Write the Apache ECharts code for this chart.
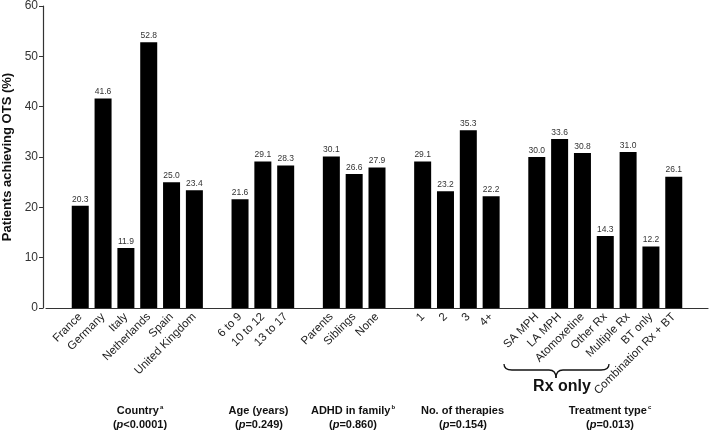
<!DOCTYPE html>
<html>
<head>
<meta charset="utf-8">
<script src="https://cdn.jsdelivr.net/npm/echarts@6/dist/echarts.min.js"></script>
<style>html,body{margin:0;padding:0;background:#fff}#c{width:710px;height:431px}</style>
</head>
<body>
<div id="c"></div>
<script>
// Data by group
const countryCats = ['France','Germany','Italy','Netherlands','Spain','United Kingdom'];
const countryVals = [20.3, 41.6, 11.9, 52.8, 25.0, 23.4];
const ageCats = ['6 to 9','10 to 12','13 to 17'];
const ageVals = [21.6, 29.1, 28.3];
const familyCats = ['Parents','Siblings','None'];
const familyVals = [30.1, 26.6, 27.9];
const therapyCats = ['1','2','3','4+'];
const therapyVals = [29.1, 23.2, 35.3, 22.2];
const treatCats = ['SA MPH','LA MPH','Atomoxetine','Other Rx','Multiple Rx','BT only','Combination Rx + BT'];
const treatVals = [30.0, 33.6, 30.8, 14.3, 31.0, 12.2, 26.1];
const yTicks = [0, 10, 20, 30, 40, 50, 60];

const groups = [
  [countryCats, countryVals],
  [ageCats, ageVals],
  [familyCats, familyVals],
  [therapyCats, therapyVals],
  [treatCats, treatVals]
];
const cats = [' 0'];
const vals = [null];
groups.forEach((g, gi) => {
  if (gi > 0) { cats.push(' g' + gi); vals.push(null); }
  g[0].forEach((c, i) => { cats.push(c); vals.push(g[1][i]); });
});
cats.push(' end'); vals.push(null);

const chart = echarts.init(document.getElementById('c'), null, {renderer: 'canvas'});
const font = 'Liberation Sans, Arial, Helvetica, sans-serif';

function groupLabel(x, y, main, sup, p) {
  return {type: 'text', x: x, y: y, style: {
      text: '{m|' + main + '}{s|' + sup + '}\n{b|(}{i|p}{b|' + p + ')}',
      align: 'center', verticalAlign: 'top', lineHeight: 14,
      rich: {
        m: {fontFamily: font, fontWeight: 'bold', fontSize: 11, fill: '#111'},
        s: {fontFamily: font, fontWeight: 'bold', fontSize: 6, fill: '#111', verticalAlign: 'top', padding: [0,0,5,1]},
        b: {fontFamily: font, fontWeight: 'bold', fontSize: 11, fill: '#111'},
        i: {fontFamily: font, fontWeight: 'bold', fontStyle: 'italic', fontSize: 11, fill: '#111'}
      }
    }};
}
const braceStyle = {stroke: '#111', lineWidth: 1.3, fill: null};

chart.setOption({
  animation: false,
  grid: {left: 46, right: 2, top: 6, bottom: 123, containLabel: false, outerBoundsMode: 'none'},
  xAxis: {
    type: 'category',
    data: cats,
    axisLine: {lineStyle: {color: '#333', width: 1.2}},
    axisTick: {show: false},
    axisLabel: {
      interval: 0, rotate: 45, margin: 7,
      fontFamily: font, fontSize: 11.5, color: '#222',
      formatter: v => v.charAt(0) === ' ' ? '' : v
    }
  },
  yAxis: {
    type: 'value', min: yTicks[0], max: yTicks[yTicks.length-1], interval: 10,
    offset: 3,
    name: 'Patients achieving OTS (%)', nameLocation: 'middle', nameGap: 28,
    nameTextStyle: {fontFamily: font, fontWeight: 'bold', fontSize: 13, color: '#111'},
    axisLine: {show: true, lineStyle: {color: '#333', width: 1.2}},
    axisTick: {show: true, length: 4, lineStyle: {color: '#333'}},
    axisLabel: {fontFamily: font, fontSize: 12, color: '#333', margin: 5},
    splitLine: {show: false}
  },
  series: [{
    type: 'bar', data: vals, barWidth: 17,
    itemStyle: {color: '#000'},
    label: {show: true, position: 'top', distance: 2, fontFamily: font, fontSize: 8.5, color: '#333',
      formatter: p => p.value == null ? '' : p.value.toFixed(1)}
  }],
  graphic: [
    groupLabel(140, 404, 'Country', 'a', '<0.0001'),
    groupLabel(259, 404, 'Age (years)', '', '=0.249'),
    groupLabel(353, 404, 'ADHD in family', 'b', '=0.860'),
    groupLabel(463, 404, 'No. of therapies', '', '=0.154'),
    groupLabel(610, 404, 'Treatment type', 'c', '=0.013'),
    {type: 'bezierCurve', shape: {x1: 504, y1: 364, x2: 512, y2: 370, cpx1: 504, cpy1: 370}, style: braceStyle},
    {type: 'line', shape: {x1: 512, y1: 370, x2: 549, y2: 370}, style: braceStyle},
    {type: 'bezierCurve', shape: {x1: 549, y1: 370, x2: 556, y2: 378, cpx1: 556, cpy1: 370}, style: braceStyle},
    {type: 'bezierCurve', shape: {x1: 556, y1: 378, x2: 563, y2: 370, cpx1: 556, cpy1: 370}, style: braceStyle},
    {type: 'line', shape: {x1: 563, y1: 370, x2: 601, y2: 370}, style: braceStyle},
    {type: 'bezierCurve', shape: {x1: 601, y1: 370, x2: 609, y2: 364, cpx1: 609, cpy1: 370}, style: braceStyle},
    {type: 'text', x: 562, y: 387, style: {text: 'Rx only', align: 'center', verticalAlign: 'middle',
      fontFamily: font, fontWeight: 'bold', fontSize: 16, fill: '#111'}}
  ]
});
</script>
</body>
</html>
